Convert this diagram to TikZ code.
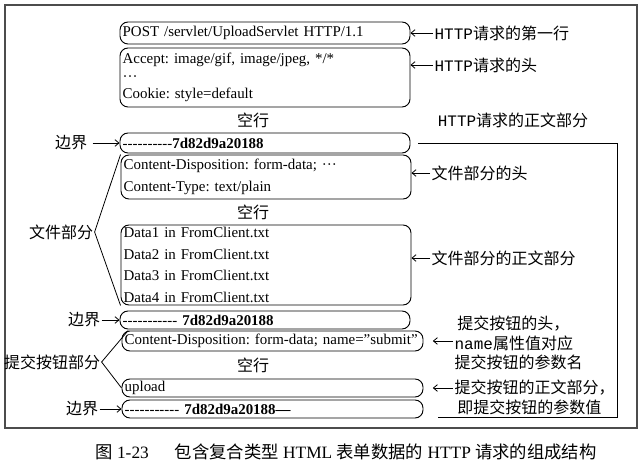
\documentclass[tikz,border=0pt]{standalone}
\usepackage{fontspec}
\setmainfont{Liberation Serif}
\newfontfamily\cjk{Noto Sans CJK SC}
\newfontfamily\hw{Liberation Mono}
\usetikzlibrary{arrows.meta}
\frenchspacing

\begin{document}
\begin{tikzpicture}[x = 0.75pt, y = -0.75pt]
\tikzstyle{boxStyle} = [draw, line width = 0.7pt, rounded corners = 6pt, inner xsep = 2pt, inner ysep = 0pt, align = left, text width = 213.5pt, font = \fontsize{11.2}{16.3}\selectfont]
\tikzstyle{wideBoxStyle} = [boxStyle, text width = 221.75pt]
\tikzstyle{noteStyle} = [font = \cjk\fontsize{12}{14.6}\selectfont, inner sep = 1pt]
\tikzstyle{arrowStyle} = [-{Straight Barb[length = 3pt, width = 5pt]}, line width = 0.6pt]
\tikzstyle{lineStyle} = [line width = 0.6pt]

\useasboundingbox (0,0) rectangle (642,473);
\draw[line width = 1.2pt, black!70] (5,5) rectangle (637,428);

% request line and headers
\node[boxStyle, minimum height = 16.5pt] (first) at (265,33) {POST /servlet/UploadServlet HTTP/1.1};
\node[boxStyle, minimum height = 44.25pt, font = \fontsize{11.2}{13.1}\selectfont] (head) at (265,77.5) {Accept: image/gif, image/jpeg, */*\\ ···\\ Cookie: style=default};
\node[noteStyle] (blank1) at (253,120) {空行};

% file part
\node[boxStyle, minimum height = 15pt] (bound1) at (265,143) {-{}-{}-{}-{}-{}-{}-{}-{}-{}-\textbf{7d82d9a20188}};
\node[boxStyle, minimum height = 33pt] (filehead) at (266,177) {Content-Disposition: form-data; ···\\ Content-Type: text/plain};
\node[noteStyle] (blank2) at (253,212) {空行};
\node[boxStyle, minimum height = 60pt] (filebody) at (266,265) {Data1 in FromClient.txt\\ Data2 in FromClient.txt\\ Data3 in FromClient.txt\\ Data4 in FromClient.txt};

% submit button part
\node[boxStyle, minimum height = 13.5pt] (bound2) at (265,320) {-{}-{}-{}-{}-{}-{}-{}-{}-{}-{}- \textbf{7d82d9a20188}};
\node[wideBoxStyle, minimum height = 15pt] (btnhead) at (272.5,341) {Content-Disposition: form-data; name=\symbol{34}submit\symbol{34}};
\node[noteStyle] (blank3) at (253,365) {空行};
\node[wideBoxStyle, minimum height = 13.5pt] (btnbody) at (272.5,388) {upload};
\node[wideBoxStyle, minimum height = 13.5pt] (bound3) at (272.5,409) {-{}-{}-{}-{}-{}-{}-{}-{}-{}-{}- \textbf{7d82d9a20188—}};

% left labels
\node[noteStyle] (bndnote1) at (71,143) {边界};
\draw[arrowStyle] ([xshift = 3pt]bndnote1.east) -- (bound1.west);
\node[noteStyle] (filenote) at (61,232) {文件部分};
\draw[lineStyle] (filehead.north west) -- (filenote.east) -- (filebody.south west);
\node[noteStyle] (bndnote2) at (84,320) {边界};
\draw[arrowStyle] (bndnote2.east) -- (bound2.west);
\node[noteStyle] (btnnote) at (52,362) {提交按钮部分};
\draw[lineStyle] ([xshift = 5pt]btnhead.north west) -- (btnnote.east) -- (btnbody.west);
\node[noteStyle] (bndnote3) at (82,409) {边界};
\draw[arrowStyle] (bndnote3.east) -- (bound3.west);

% right labels
\node[noteStyle, anchor = west] (firstnote) at (433,33) {{\hw HTTP}请求的第一行};
\draw[arrowStyle] (firstnote.west) -- (first.east);
\node[noteStyle, anchor = west] (headnote) at (433,65) {{\hw HTTP}请求的头};
\draw[arrowStyle] (headnote.west) -- (headnote.west -| head.east);
\node[noteStyle] (bodynote) at (513,120) {{\hw HTTP}请求的正文部分};
\coordinate (bodycorner) at (617,417);
\coordinate (bodyend) at (438,417);
\draw[lineStyle] ([xshift = 6pt]bound1.east) -| (bodycorner) -- (bodyend);
\node[noteStyle, anchor = west] (fileheadnote) at (430,173) {文件部分的头};
\draw[arrowStyle] (fileheadnote.west) -- (fileheadnote.west -| filehead.east);
\node[noteStyle, anchor = west] (filebodynote) at (430,258) {文件部分的正文部分};
\draw[arrowStyle] (filebodynote.west) -- (filebodynote.west -| filebody.east);
\node[noteStyle, anchor = west, align = left] (btnheadnote) at (453,343) {\,提交按钮的头，\\{\hw name}属性值对应\\提交按钮的参数名};
\draw[arrowStyle, shorten > = 7pt] (btnheadnote.west |- btnhead.east) -- (btnhead.east);
\node[noteStyle, anchor = west, align = left] (btnbodynote) at (453,397.5) {提交按钮的正文部分，\\\,即提交按钮的参数值};
\draw[arrowStyle, shorten > = 7pt] (btnbodynote.west |- btnbody.east) -- (btnbody.east);

% caption
\node[font = \fontsize{13}{15}\selectfont] (caption) at (346,452) {{\cjk 图} 1-23\hspace{1.5em}{\cjk 包含复合类型} HTML {\cjk 表单数据的} HTTP {\cjk 请求的组成结构}};
\end{tikzpicture}
\end{document}
